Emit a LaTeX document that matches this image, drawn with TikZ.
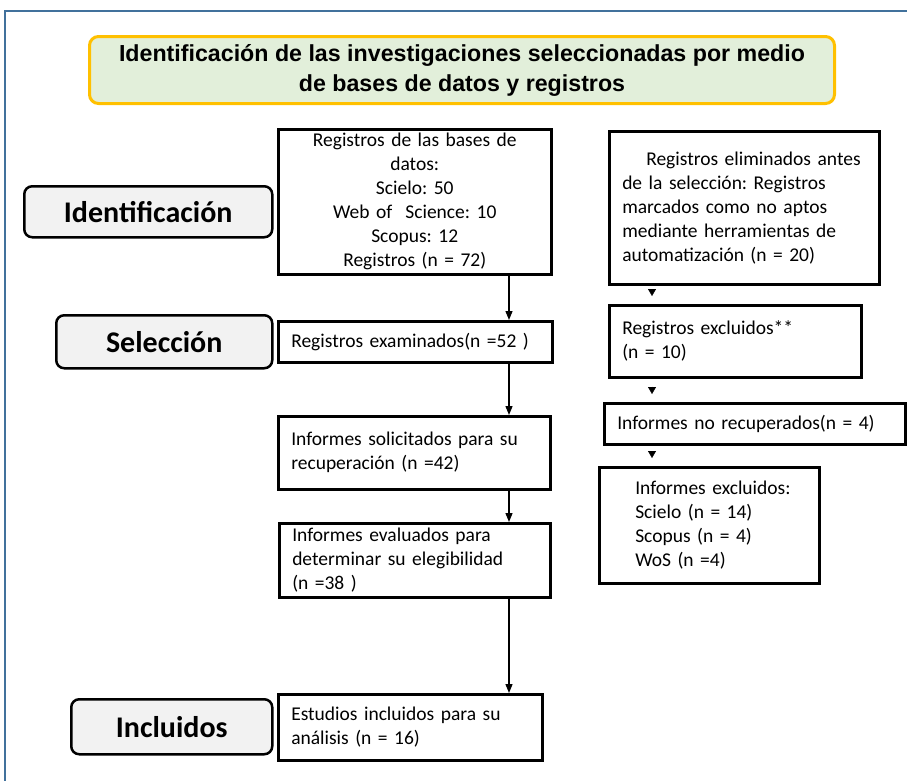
\documentclass[tikz,border=0pt]{standalone}
\usepackage{fontspec}
\setmainfont{Carlito}
\newfontfamily\titlefont{Liberation Sans}
\usetikzlibrary{arrows.meta}
\frenchspacing

\definecolor{framecol}{HTML}{41719C}
\definecolor{titlefill}{HTML}{E2EFDA}
\definecolor{titleline}{HTML}{FFC000}
\definecolor{stagefill}{HTML}{F2F2F2}

\tikzset{
  stage/.style={draw, line width=2.5pt, rounded corners=8pt, fill=stagefill,
    font=\fontsize{30}{34}\selectfont\bfseries, anchor=north west, inner sep=0pt},
  box/.style={draw, line width=2.5pt, anchor=north west, inner xsep=13pt,
    inner ysep=0pt, font=\fontsize{19.5}{24}\selectfont, align=left},
  arr/.style={line width=1.3pt, -{Triangle[length=9pt,width=7pt]}},
  tip/.style={-{Triangle[length=7pt,width=8pt]}, shorten <=8pt, shorten >=8pt}
}

\begin{document}
\begin{tikzpicture}[x=1pt,y=-1pt]
\useasboundingbox (0,0) rectangle (907,780);

% frame
\draw[framecol, line width=1.5pt] (5,800) -- (5,11) -- (920,11);

% title
\draw (88,35) node[anchor=north west, draw=titleline, fill=titlefill, line width=3pt,
  rounded corners=9pt, minimum width=745, minimum height=67, align=center,
  font=\titlefont\fontsize{23.2}{30}\selectfont\bfseries] (title)
  {Identificación de las investigaciones seleccionadas por medio\\de bases de datos y registros};

% stages
\draw (23,185) node[stage, minimum width=248, minimum height=51] (ident) {Identificación};
\draw (55,314) node[stage, minimum width=216, minimum height=53] (selec) {Selección};
\draw (70,698) node[stage, minimum width=201, minimum height=55] (incl) {Incluidos};

% main column
\draw (277,128) node[box, align=center, text width=247, minimum height=145] (reg)
  {Registros de las bases de\\datos:\\Scielo: 50\\Web of~ Science: 10\\Scopus: 12\\Registros (n = 72)};
\draw (277,320) node[box, text width=248, minimum height=41] (exam)
  {Registros examinados(n =52 )};
\draw (277,415) node[box, text width=246, minimum height=73] (solic)
  {Informes solicitados para su\\recuperación (n =42)};
\draw (278,522) node[box, text width=245, minimum height=74] (eval)
  {Informes evaluados para\\determinar su elegibilidad\\(n =38 )};
\draw (277,693) node[box, text width=238, minimum height=66] (estud)
  {Estudios incluidos para su\\análisis (n = 16)};

% side column
\draw (608,130) node[box, text width=244, minimum height=153] (elim)
  {\hspace*{24pt}Registros eliminados antes\\de la selección: Registros\\marcados como no aptos\\mediante herramientas de\\automatización (n = 20)};
\draw (608,304) node[box, text width=226, minimum height=72] (excl)
  {Registros excluidos**\\(n = 10)};
\draw (603,402) node[box, text width=275, minimum height=41] (norec)
  {Informes no recuperados(n = 4)};
\draw (598,466) node[box, text width=194, minimum height=116] (infexcl)
  {\hspace*{23pt}Informes excluidos:\\\hspace*{23pt}Scielo (n = 14)\\\hspace*{23pt}Scopus (n = 4)\\\hspace*{23pt}WoS (n =4)};

\coordinate (mainx) at (509,0);
\coordinate (sidex) at (652,0);

\draw[arr] (reg.south -| mainx) -- (exam.north -| mainx);
\draw[arr] (exam.south -| mainx) -- (solic.north -| mainx);
\draw[arr] (solic.south -| mainx) -- (eval.north -| mainx);
\draw[arr] (eval.south -| mainx) -- (estud.north -| mainx);

\draw[tip] (elim.south -| sidex) -- (excl.north -| sidex);
\draw[tip] (excl.south -| sidex) -- (norec.north -| sidex);
\draw[tip] (norec.south -| sidex) -- (infexcl.north -| sidex);
\end{tikzpicture}
\end{document}
